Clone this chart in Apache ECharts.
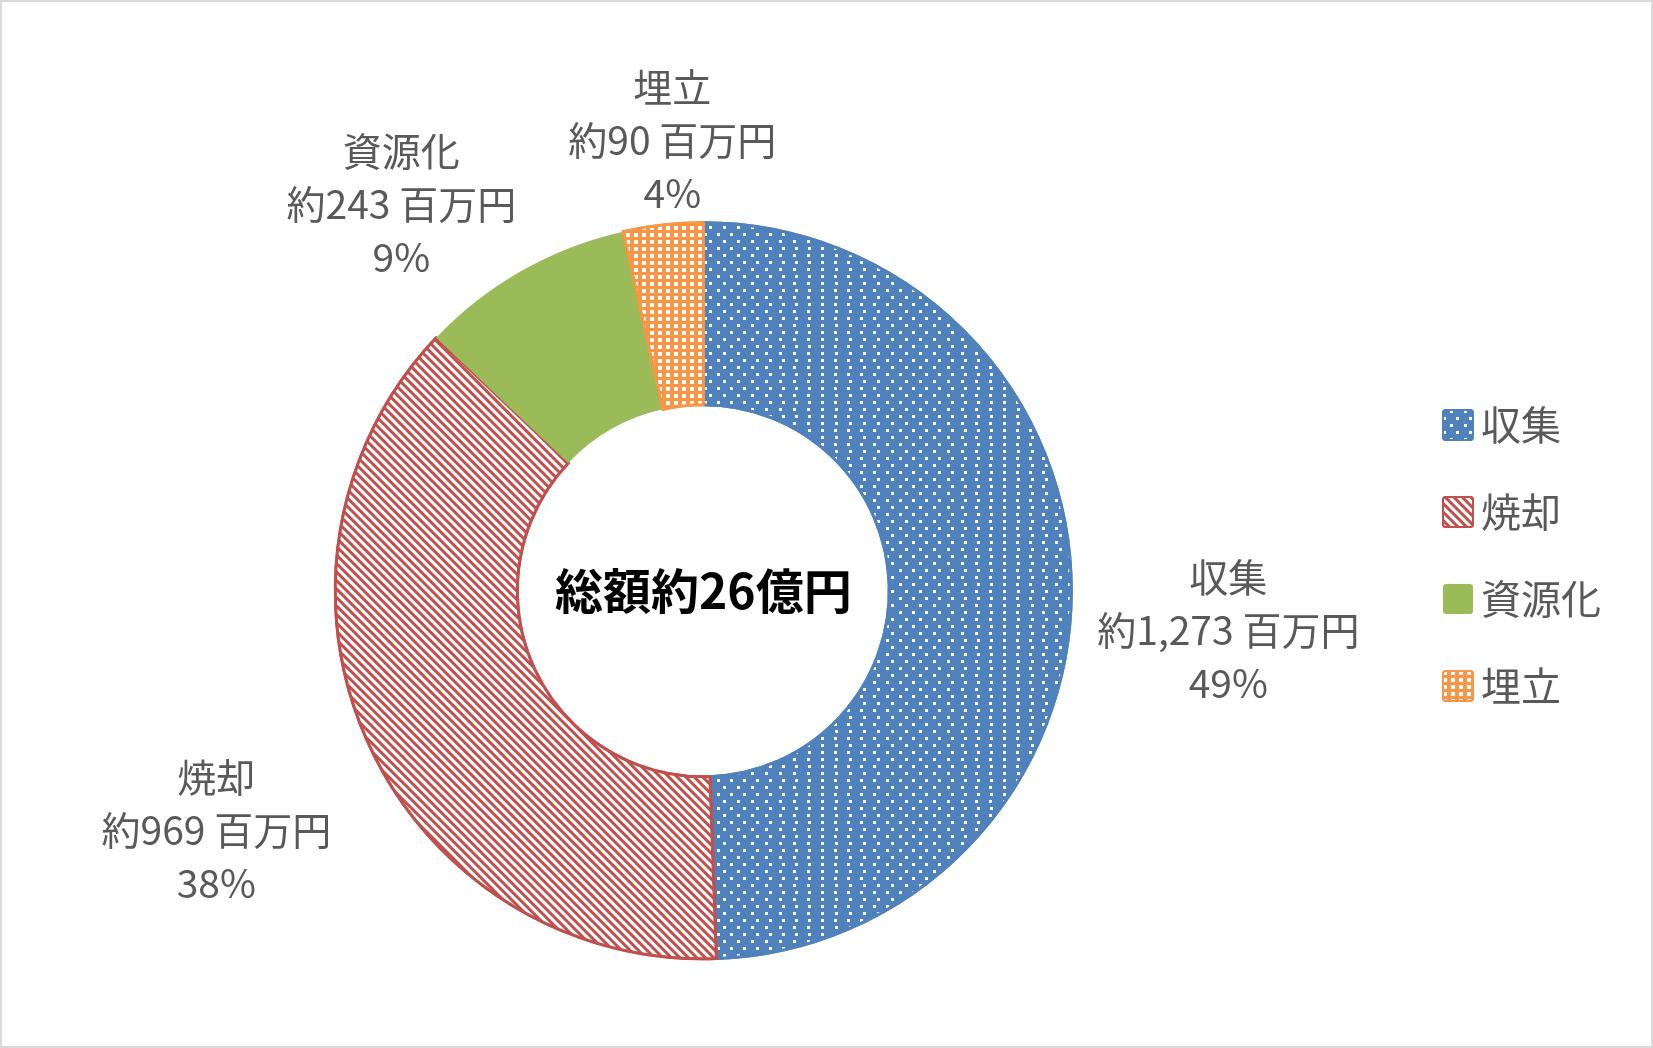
<!DOCTYPE html>
<html>
<head>
<meta charset="utf-8">
<script src="https://cdn.jsdelivr.net/npm/echarts@6/dist/echarts.min.js"></script>
<style>
html,body{margin:0;padding:0;background:#fff;}
#c{width:1653px;height:1048px;box-sizing:border-box;border:2px solid #d9d9d9;}
</style>
</head>
<body>
<div id="c"></div>
<script>
const categories = ['収集', '焼却', '資源化', '埋立'];
const values = [1273, 969, 243, 90];
const percentLabels = [49, 38, 9, 4];
const totalLabel = '総額約26億円';

const colors = ['#4f81bd', '#c0504d', '#9bbb59', '#f79646'];
const FONT = '"Noto Sans CJK JP", sans-serif';

const decals = [
  { symbol: 'rect', symbolSize: 1, color: '#ffffff', dashArrayX: [[3, 10], [0, 6.5, 3, 3.5]], dashArrayY: [3, 3.7] },
  { symbol: 'rect', symbolSize: 1, color: '#ffffff', dashArrayX: [1, 0], dashArrayY: [3, 3], rotation: Math.PI / 4 },
  null,
  { symbol: 'rect', symbolSize: 1, color: '#ffffff', dashArrayX: [3.3, 3.7], dashArrayY: [3.3, 2.7] }
];

// label block centre offsets relative to the pie centre (layout only)
const labelOffsets = [[525, 39], [-487, 239], [-302, -387], [-31, -451]];

const chart = echarts.init(document.getElementById('c'));
const CX = 0.4253, CY = 0.564;

const seriesData = categories.map((name, i) => {
  const item = {
    name: name,
    value: values[i],
    itemStyle: { color: colors[i] }
  };
  if (decals[i]) {
    item.itemStyle.decal = decals[i];
    item.itemStyle.borderColor = colors[i];
    item.itemStyle.borderWidth = 3;
  }
  return item;
});

chart.setOption({
  animation: false,
  backgroundColor: '#ffffff',
  color: colors,
  title: {
    text: totalLabel,
    left: (CX * 100) + '%',
    top: (CY * 100) + '%',
    textAlign: 'center',
    textVerticalAlign: 'middle',
    padding: 0,
    textStyle: { fontFamily: FONT, fontSize: 48, fontWeight: 'bold', color: '#000000' }
  },
  legend: {
    orient: 'vertical',
    left: 1440,
    top: 403,
    padding: 0,
    itemWidth: 30,
    itemHeight: 30,
    itemGap: 47,
    icon: 'path://M3,0 H27 Q30,0 30,3 V27 Q30,30 27,30 H3 Q0,30 0,27 V3 Q0,0 3,0 Z',
    data: categories,
    textStyle: { fontFamily: FONT, fontSize: 40, lineHeight: 40, color: '#595959', padding: [0, 0, 0, 3] }
  },
  series: [{
    type: 'pie',
    center: [(CX * 100) + '%', (CY * 100) + '%'],
    radius: [186, 368],
    startAngle: 90,
    clockwise: true,
    avoidLabelOverlap: false,
    label: {
      show: true,
      position: 'outside',
      fontFamily: FONT,
      fontSize: 39,
      lineHeight: 53,
      color: '#595959',
      align: 'center',
      formatter: function (p) {
        const i = p.dataIndex;
        return categories[i] + '\n約' + values[i].toLocaleString('en-US') + ' 百万円\n' + percentLabels[i] + '%';
      }
    },
    labelLine: { show: false },
    labelLayout: function (p) {
      const w = chart.getWidth(), h = chart.getHeight();
      const off = labelOffsets[p.dataIndex];
      return { x: w * CX + off[0], y: h * CY + off[1], align: 'center', verticalAlign: 'middle' };
    },
    emphasis: { disabled: true },
    data: seriesData
  }]
});
</script>
</body>
</html>
